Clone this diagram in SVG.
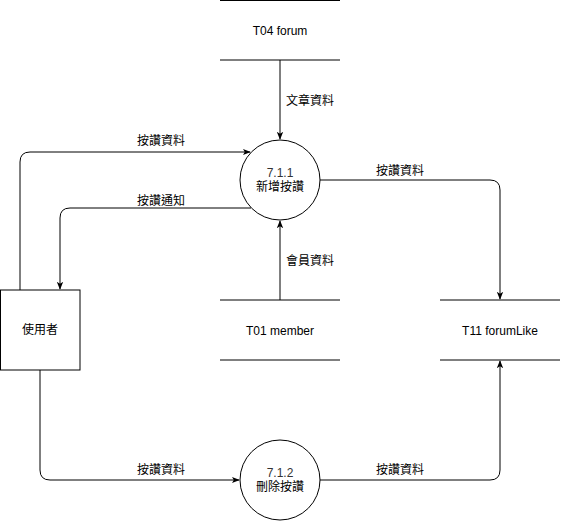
<svg xmlns="http://www.w3.org/2000/svg" width="561" height="521" viewBox="0 0 561 521">
  <defs>
    <marker id="arrow" viewBox="0 0 10 10" refX="9" refY="5" markerWidth="8" markerHeight="8" markerUnits="userSpaceOnUse" orient="auto">
      <path d="M0,1 L10,5 L0,9 L2.5,5 Z" fill="#000"/>
    </marker>
  </defs>
  <style>
    text { font-family: "Liberation Sans", "Noto Sans CJK TC", sans-serif; font-size: 12px; fill: #000; text-anchor: middle; dominant-baseline: central; }
    .num { fill: #333; }
    .shape { fill: #fff; stroke: #000; stroke-width: 1; }
    .store { stroke: #000; stroke-width: 1; fill: none; }
    .flow { fill: none; stroke: #000; stroke-width: 1; marker-end: url(#arrow); }
  </style>
  <rect width="561" height="521" fill="#fff"/>

  <!-- data flows -->
  <g id="connectors">
    <path class="flow" d="M280,60 L280,139"/>
    <path class="flow" d="M280,300 L280,221"/>
    <path class="flow" d="M20,290 L20,162 Q20,152 30,152 L250,152"/>
    <path class="flow" d="M251,208 L70,208 Q60,208 60,218 L60,289"/>
    <path class="flow" d="M320,180 L490,180 Q500,180 500,190 L500,299"/>
    <path class="flow" d="M40,370 L40,470 Q40,480 50,480 L239,480"/>
    <path class="flow" d="M320,480 L490,480 Q500,480 500,470 L500,361"/>
    <text x="310" y="101">文章資料</text>
    <text x="310" y="261">會員資料</text>
    <text x="161" y="141">按讚資料</text>
    <text x="161" y="201">按讚通知</text>
    <text x="400" y="171">按讚資料</text>
    <text x="161" y="470">按讚資料</text>
    <text x="400" y="470">按讚資料</text>
  </g>

  <!-- data stores -->
  <g id="store-t04">
    <line class="store" x1="220" y1="0.5" x2="340" y2="0.5"/>
    <line class="store" x1="220" y1="60" x2="340" y2="60"/>
    <text x="280" y="31">T04 forum</text>
  </g>
  <g id="store-t01">
    <line class="store" x1="220" y1="300" x2="340" y2="300"/>
    <line class="store" x1="220" y1="360" x2="340" y2="360"/>
    <text x="280" y="331">T01 member</text>
  </g>
  <g id="store-t11">
    <line class="store" x1="440" y1="300" x2="560" y2="300"/>
    <line class="store" x1="440" y1="360" x2="560" y2="360"/>
    <text x="500" y="331">T11 forumLike</text>
  </g>

  <!-- processes -->
  <g id="process-711">
    <circle class="shape" cx="280" cy="180" r="40"/>
    <text class="num" x="280" y="173">7.1.1</text>
    <text x="280" y="187">新增按讚</text>
  </g>
  <g id="process-712">
    <circle class="shape" cx="280" cy="480" r="40"/>
    <text class="num" x="280" y="473">7.1.2</text>
    <text x="280" y="487">刪除按讚</text>
  </g>

  <!-- external entity -->
  <g id="user">
    <rect class="shape" x="0.5" y="290" width="79.5" height="80"/>
    <text x="40" y="330">使用者</text>
  </g>
</svg>
